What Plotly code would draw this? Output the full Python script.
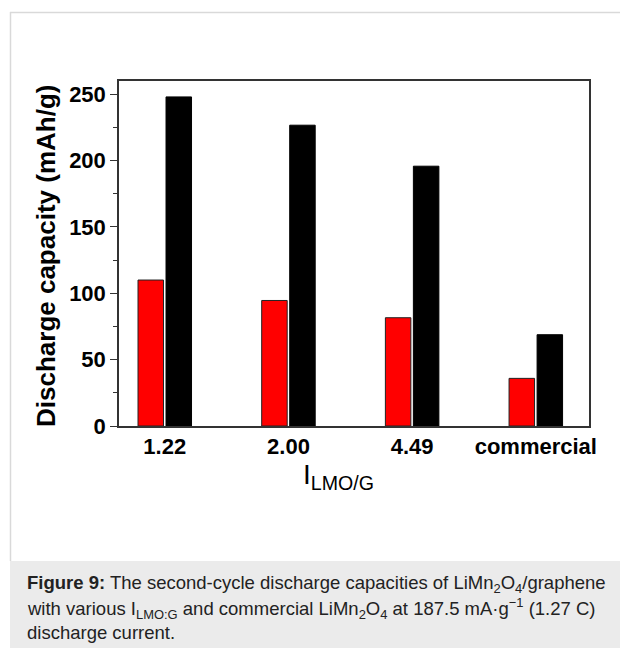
import plotly.graph_objects as go

# Second-cycle discharge capacity per LMO:G ratio
categories = ["1.22", "2.00", "4.49", "commercial"]
red_values = [110, 94.6, 81.6, 35.9]
black_values = [248, 226.7, 195.8, 68.8]
y_ticks = [0, 50, 100, 150, 200, 250]

W, H = 620, 648
L, R, T, B = 119, 31, 81, 222
PW, PH = W - L - R, H - T - B


def px(x):
    return (x - L) / PW


def py(y):
    return (H - B - y) / PH


bold = dict(family="Liberation Sans, Arial, sans-serif", color="black", weight="bold")

fig = go.Figure()
fig.add_bar(x=categories, y=red_values, marker=dict(color="#ff0000", line=dict(color="#222", width=1)))
fig.add_bar(x=categories, y=black_values, marker=dict(color="#000000", line=dict(color="#000", width=1)))

fig.update_layout(
    width=W, height=H,
    margin=dict(l=L, r=R, t=T, b=B),
    paper_bgcolor="white", plot_bgcolor="white",
    barmode="group", bargap=0.547, bargroupgap=0.09,
    showlegend=False,
    xaxis=dict(
        range=[-0.37, 3.43], showgrid=False, ticks="",
        showline=True, linecolor="#333", linewidth=1.5, mirror=True,
        tickfont=dict(size=22, **bold),
    ),
    yaxis=dict(
        range=[0, 260], tickvals=y_ticks, showgrid=False, zeroline=False,
        ticks="outside", ticklen=7, tickwidth=1, tickcolor="#333",
        minor=dict(dtick=25, ticks="outside", ticklen=4, tickcolor="#333", tickwidth=1),
        showline=True, linecolor="#333", linewidth=1.5, mirror=True,
        tickfont=dict(size=22, **bold),
    ),
)

# page frame and caption box
fig.add_shape(type="rect", xref="paper", yref="paper",
              x0=px(10), x1=px(621), y0=py(649), y1=py(561),
              fillcolor="#ebebeb", line=dict(width=0), layer="below")
fig.add_shape(type="line", xref="paper", yref="paper",
              x0=px(10), x1=px(621), y0=py(12.5), y1=py(12.5),
              line=dict(color="#d9d9d9", width=1.5))
fig.add_shape(type="line", xref="paper", yref="paper",
              x0=px(10.5), x1=px(10.5), y0=py(12), y1=py(561),
              line=dict(color="#d9d9d9", width=1.5))

# axis titles
fig.add_annotation(xref="paper", yref="paper", x=px(46), y=py(256),
                   text="Discharge capacity (mAh/g)", textangle=-90,
                   showarrow=False, xanchor="center", yanchor="middle",
                   font=dict(size=26, **bold))
fig.add_annotation(xref="paper", yref="paper", x=px(338), y=py(476),
                   text="I<sub>LMO/G</sub>",
                   showarrow=False, xanchor="center", yanchor="middle",
                   font=dict(size=28, family="Liberation Sans, Arial, sans-serif", color="black"))

# caption
cap_font = dict(size=18.5, family="Liberation Sans, Arial, sans-serif", color="#222")
caption_lines = [
    "<b>Figure 9:</b> The second-cycle discharge capacities of LiMn<sub>2</sub>O<sub>4</sub>/graphene",
    "with various I<sub>LMO:G</sub> and commercial LiMn<sub>2</sub>O<sub>4</sub> at 187.5 mA·g<sup>−1</sup> (1.27 C)",
    "discharge current.",
]
for i, line in enumerate(caption_lines):
    fig.add_annotation(xref="paper", yref="paper", x=px(25), y=py(584 + 24 * i),
                       text=line, showarrow=False, xanchor="left", yanchor="middle",
                       align="left", font=cap_font)

fig.write_html("out.html")
